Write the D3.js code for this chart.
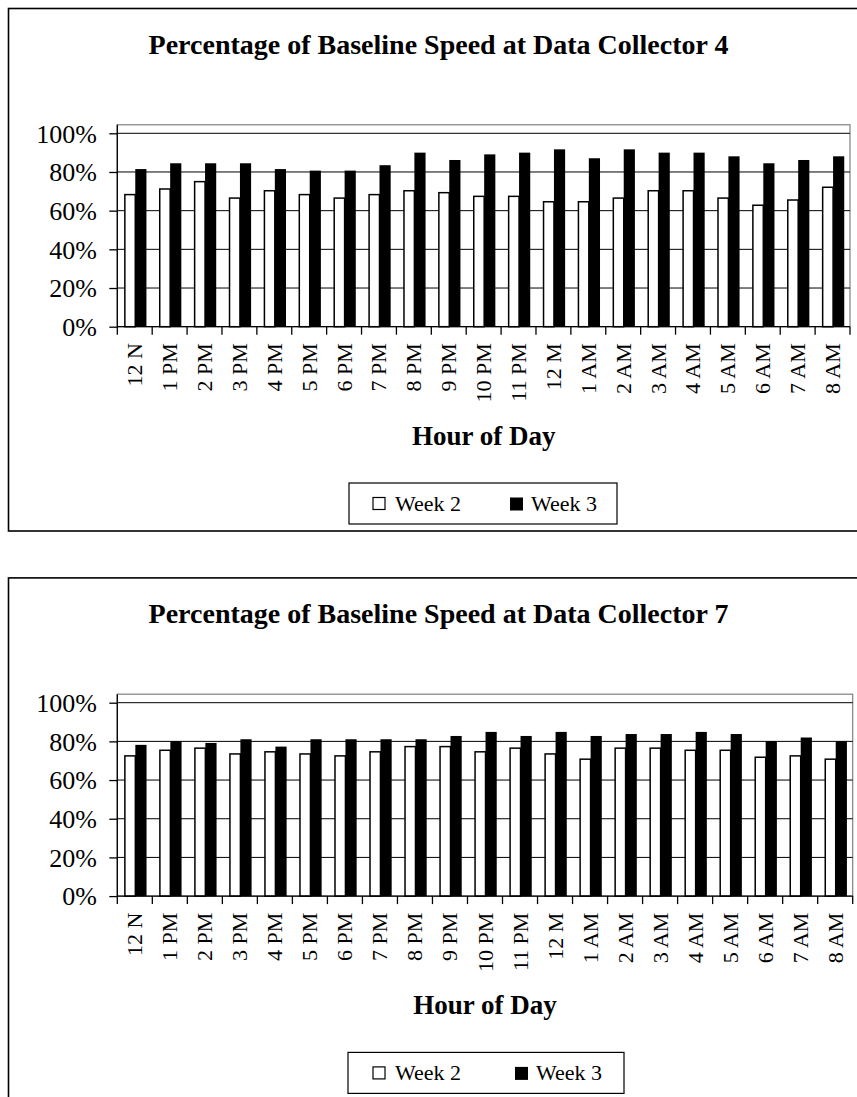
<!DOCTYPE html>
<html>
<head>
<meta charset="utf-8">
<script src="https://cdn.jsdelivr.net/npm/d3@7"></script>
<style>
  html, body { margin: 0; padding: 0; background: #fff; }
  svg { display: block; }
  text { font-family: "Liberation Serif", "Times New Roman", serif; fill: #000; }
</style>
</head>
<body>
<svg id="chart" width="857" height="1097"></svg>
<script>
// ---------------- DATA ----------------
const categories = ["12 N", "1 PM", "2 PM", "3 PM", "4 PM", "5 PM", "6 PM", "7 PM", "8 PM", "9 PM",
  "10 PM", "11 PM", "12 M", "1 AM", "2 AM", "3 AM", "4 AM", "5 AM", "6 AM", "7 AM", "8 AM"];
const seriesNames = ["Week 2", "Week 3"];
const yTickValues = [0, 20, 40, 60, 80, 100];
const yTickLabels = ["0%", "20%", "40%", "60%", "80%", "100%"];

const titles = ["Percentage of Baseline Speed at Data Collector 4",
                "Percentage of Baseline Speed at Data Collector 7"];
const xAxisTitle = "Hour of Day";

// Data Collector 4 (percent of baseline speed)
const dc4Week2 = [68.3, 71.2, 75.0, 66.5, 70.3, 68.3, 66.5, 68.3, 70.3, 69.3, 67.4,
                  67.4, 64.6, 64.6, 66.5, 70.3, 70.3, 66.5, 62.8, 65.5, 72.1];
const dc4Week3 = [81.5, 84.5, 84.5, 84.5, 81.5, 80.7, 80.7, 83.5, 90.0, 86.2, 89.1,
                  90.0, 91.7, 87.1, 91.7, 90.0, 90.0, 88.1, 84.5, 86.2, 88.1];
// Data Collector 7
const dc7Week2 = [72.5, 75.4, 76.5, 73.5, 74.6, 73.5, 72.5, 74.6, 77.3, 77.3, 74.6,
                  76.5, 73.5, 70.8, 76.5, 76.5, 75.4, 75.4, 71.8, 72.5, 70.8];
const dc7Week3 = [78.2, 80.2, 79.2, 81.1, 77.3, 81.1, 81.1, 81.1, 81.1, 82.8, 84.9,
                  82.8, 84.9, 82.8, 83.8, 83.8, 84.9, 83.8, 80.2, 82.0, 80.2];

// ---------------- LAYOUT ----------------
const panels = [
  { dy: 0,     title: titles[0], w2: dc4Week2, w3: dc4Week3, plotRight: 850,
    legend: { x0: 349, x1: 617, m2: 373, t2: 395, m3: 510, t3: 531 } },
  { dy: 569.4, title: titles[1], w2: dc7Week2, w3: dc7Week3, plotRight: 852.7,
    legend: { x0: 348, x1: 624, m2: 373, t2: 395, m3: 515, t3: 536 } }
];

const svg = d3.select("#chart");

panels.forEach(p => {
  const g = svg.append("g").attr("transform", `translate(0,${p.dy})`);

  // chart area frame (right and bottom edges run off canvas for lower chart)
  g.append("rect")
    .attr("x", 8.5).attr("y", 8.5)
    .attr("width", 862).attr("height", p.dy === 0 ? 522.5 : 600)
    .attr("fill", "#fff").attr("stroke", "#000").attr("stroke-width", 1.6);

  // title
  g.append("text")
    .attr("x", 438.5).attr("y", 54)
    .attr("text-anchor", "middle")
    .attr("font-size", 28).attr("font-weight", "bold")
    .text(p.title);

  const plotLeft = 117.3, plotRight = p.plotRight;
  const y = d3.scaleLinear().domain([0, 100]).range([326.7, 133.3]);
  const x0 = d3.scaleBand().domain(categories).range([plotLeft, plotRight]).padding(0);
  const x1 = d3.scaleBand().domain(seriesNames)
    .range([x0.bandwidth() * 0.195, x0.bandwidth() * 0.835]).padding(0);

  // plot area border (grey)
  const plotTop = y(104.4);
  g.append("rect")
    .attr("x", plotLeft).attr("y", plotTop)
    .attr("width", plotRight - plotLeft).attr("height", y(0) - plotTop)
    .attr("fill", "none").attr("stroke", "#808080").attr("stroke-width", 1.2);

  // gridlines
  g.append("g").selectAll("line")
    .data(yTickValues.filter(v => v > 0))
    .join("line")
    .attr("x1", plotLeft).attr("x2", plotRight)
    .attr("y1", d => y(d)).attr("y2", d => y(d))
    .attr("stroke", "#000").attr("stroke-width", 1);

  // bars
  const rows = categories.map((c, i) => ({ cat: c, vals: [p.w2[i], p.w3[i]] }));
  const grp = g.append("g").selectAll("g")
    .data(rows).join("g")
    .attr("transform", d => `translate(${x0(d.cat)},0)`);
  grp.selectAll("rect")
    .data(d => d.vals.map((v, k) => ({ s: seriesNames[k], v })))
    .join("rect")
    .attr("x", d => x1(d.s) + (d.s === "Week 2" ? 0.75 : 0))
    .attr("width", d => x1.bandwidth() - (d.s === "Week 2" ? 0.75 : 0))
    .attr("y", d => y(d.v))
    .attr("height", d => y(0) - y(d.v))
    .attr("fill", d => d.s === "Week 2" ? "#fff" : "#000")
    .attr("stroke", "#000").attr("stroke-width", d => d.s === "Week 2" ? 1.5 : 0);

  // y axis
  const yAxis = d3.axisLeft(y).tickValues(yTickValues)
    .tickFormat((d, i) => yTickLabels[i]).tickSize(8).tickPadding(12.5);
  const ya = g.append("g").attr("transform", `translate(${plotLeft},0)`).call(yAxis);
  ya.select(".domain").attr("d", `M0,${plotTop}V${y(0)}`).attr("stroke", "#000").attr("stroke-width", 1.3);
  ya.selectAll(".tick line").attr("stroke", "#000").attr("stroke-width", 1.3);
  ya.selectAll(".tick text")
    .attr("font-family", "Liberation Serif").attr("font-size", 26).attr("fill", "#000")
    .attr("dy", "0.34em");

  // x axis: ticks at category boundaries
  const xa = g.append("g").attr("transform", `translate(0,${y(0)})`);
  xa.append("line").attr("x1", plotLeft).attr("x2", plotRight)
    .attr("stroke", "#000").attr("stroke-width", 1.3);
  const bounds = categories.map(c => x0(c)).concat([plotRight]);
  xa.selectAll("line.tk").data(bounds).join("line").attr("class", "tk")
    .attr("x1", d => d).attr("x2", d => d).attr("y1", 0).attr("y2", 8)
    .attr("stroke", "#000").attr("stroke-width", 1.3);
  xa.selectAll("text").data(categories).join("text")
    .attr("transform", d => `translate(${x0(d) + x0.bandwidth() / 2},16.5) rotate(-90)`)
    .attr("text-anchor", "end")
    .attr("dominant-baseline", "central")
    .attr("font-size", 22)
    .text(d => d);

  // x axis title
  g.append("text")
    .attr("x", (plotLeft + plotRight) / 2).attr("y", 445)
    .attr("text-anchor", "middle")
    .attr("font-size", 27).attr("font-weight", "bold")
    .text(xAxisTitle);

  // legend
  const L = p.legend;
  const lg = g.append("g");
  lg.append("rect").attr("x", L.x0).attr("y", 483).attr("width", L.x1 - L.x0).attr("height", 41)
    .attr("fill", "#fff").attr("stroke", "#000").attr("stroke-width", 1.2);
  lg.append("rect").attr("x", L.m2).attr("y", 497.5).attr("width", 12).attr("height", 12)
    .attr("fill", "#fff").attr("stroke", "#000").attr("stroke-width", 1.2);
  lg.append("text").attr("x", L.t2).attr("y", 511).attr("font-size", 22).text(seriesNames[0]);
  lg.append("rect").attr("x", L.m3).attr("y", 497.5).attr("width", 13).attr("height", 13)
    .attr("fill", "#000");
  lg.append("text").attr("x", L.t3).attr("y", 511).attr("font-size", 22).text(seriesNames[1]);
});
</script>
</body>
</html>
